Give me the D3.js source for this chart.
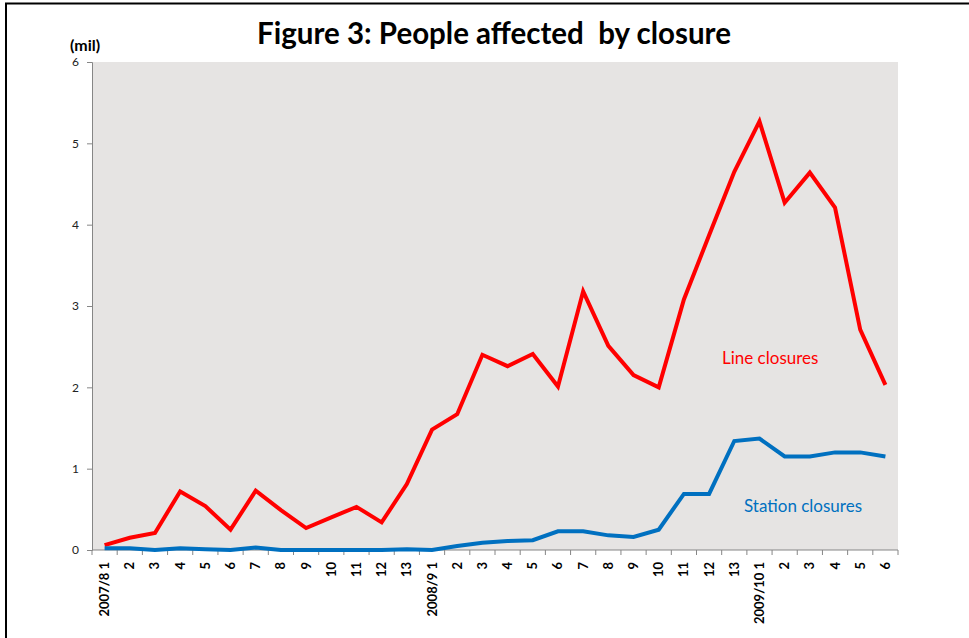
<!DOCTYPE html>
<html lang="en">
<head>
<meta charset="utf-8">
<title>Figure 3: People affected by closure</title>
<script src="https://cdn.jsdelivr.net/npm/d3@7"></script>
<style>
  body { margin: 0; background: #fff; }
  text { font-family: Lato, "Open Sans", sans-serif; }
</style>
</head>
<body>
<script type="text/javascript">

var width = 969;
var height = 638;

// categories: fiscal year periods (13 four-week periods per year)
var categories = [
  "2007/8 1", "2", "3", "4", "5", "6", "7", "8", "9", "10", "11", "12", "13",
  "2008/9 1", "2", "3", "4", "5", "6", "7", "8", "9", "10", "11", "12", "13",
  "2009/10 1", "2", "3", "4", "5", "6"
];

// people affected (millions)
var lineClosures = [
  0.06, 0.15, 0.21, 0.72, 0.54, 0.25, 0.73, 0.49, 0.27, 0.40, 0.53, 0.34, 0.81,
  1.48, 1.67, 2.40, 2.26, 2.41, 2.01, 3.18, 2.51, 2.15, 2.00, 3.08, 3.87, 4.65,
  5.27, 4.27, 4.64, 4.21, 2.71, 2.03
];
var stationClosures = [
  0.02, 0.02, 0.00, 0.02, 0.01, 0.00, 0.03, 0.00, 0.00, 0.00, 0.00, 0.00, 0.01,
  0.00, 0.05, 0.09, 0.11, 0.12, 0.23, 0.23, 0.18, 0.16, 0.25, 0.69, 0.69, 1.34,
  1.37, 1.15, 1.15, 1.20, 1.20, 1.15
];

var yTicks = [0, 1, 2, 3, 4, 5, 6];

var margin = {top: 62, right: 71, bottom: 88, left: 92};

var svg = d3.select("body").append("svg")
    .attr("width", width)
    .attr("height", height);

// outer frame
svg.append("rect")
    .attr("x", 6)
    .attr("y", 3.5)
    .attr("width", width)
    .attr("height", height)
    .attr("fill", "none")
    .attr("stroke", "#000")
    .attr("stroke-width", 2);

var x = d3.scaleBand()
    .domain(d3.range(categories.length))
    .range([margin.left, width - margin.right]);

var y = d3.scaleLinear()
    .domain([0, 6])
    .range([height - margin.bottom, margin.top]);

// plot background
svg.append("rect")
    .attr("x", margin.left)
    .attr("y", margin.top)
    .attr("width", width - margin.left - margin.right)
    .attr("height", height - margin.top - margin.bottom)
    .attr("fill", "#e6e4e3");

// y axis
var yAxis = svg.append("g")
    .attr("transform", "translate(" + margin.left + ",0)")
    .call(d3.axisLeft(y).tickValues(yTicks).tickFormat(d3.format("d")).tickSize(5).tickPadding(8));
yAxis.select(".domain").attr("stroke", "#868686");
yAxis.selectAll(".tick line").attr("stroke", "#868686");
yAxis.selectAll(".tick text")
    .attr("fill", "#222")
    .style("font-size", "12px");

// x axis: ticks at category boundaries
var xAxis = svg.append("g")
    .attr("transform", "translate(0," + (height - margin.bottom) + ")");
xAxis.append("line")
    .attr("x1", margin.left)
    .attr("x2", width - margin.right)
    .attr("stroke", "#868686");
xAxis.selectAll(".xtick")
    .data(d3.range(categories.length + 1))
    .enter()
    .append("line")
    .attr("x1", (d) => d < categories.length ? x(d) : x(d - 1) + x.bandwidth())
    .attr("x2", (d) => d < categories.length ? x(d) : x(d - 1) + x.bandwidth())
    .attr("y1", 0)
    .attr("y2", 5)
    .attr("stroke", "#868686");
xAxis.selectAll(".xlabel")
    .data(categories)
    .enter()
    .append("text")
    .attr("transform", (d, i) => "translate(" + (x(i) + x.bandwidth() / 2 + 4.5) + ",12) rotate(-90)")
    .attr("text-anchor", "end")
    .attr("font-weight", "bold")
    .style("font-size", "13px")
    .attr("fill", "#000")
    .text((d) => d);

var line = d3.line()
    .x((d, i) => x(i) + x.bandwidth() / 2)
    .y((d) => y(d));

svg.append("path")
    .datum(lineClosures)
    .attr("d", line)
    .attr("fill", "none")
    .attr("stroke", "#ff0000")
    .attr("stroke-width", 4)
    .attr("stroke-linejoin", "miter");

svg.append("path")
    .datum(stationClosures)
    .attr("d", line)
    .attr("fill", "none")
    .attr("stroke", "#0070c0")
    .attr("stroke-width", 4)
    .attr("stroke-linejoin", "miter");

// series labels
svg.append("text")
    .attr("x", 722)
    .attr("y", 364)
    .attr("fill", "#ff0000")
    .style("font-size", "17px")
    .text("Line closures");

svg.append("text")
    .attr("x", 744)
    .attr("y", 512)
    .attr("fill", "#0070c0")
    .style("font-size", "17px")
    .text("Station closures");

// title and unit
svg.append("text")
    .attr("x", 494)
    .attr("y", 44)
    .attr("text-anchor", "middle")
    .attr("font-weight", "bold")
    .style("font-size", "29.5px")
    .attr("fill", "#000")
    .style("white-space", "pre")
    .text("Figure 3: People affected\u00a0 by closure");

svg.append("text")
    .attr("x", 70)
    .attr("y", 51)
    .attr("font-weight", "bold")
    .style("font-size", "16px")
    .attr("fill", "#000")
    .text("(mil)");

</script>
</body>
</html>
